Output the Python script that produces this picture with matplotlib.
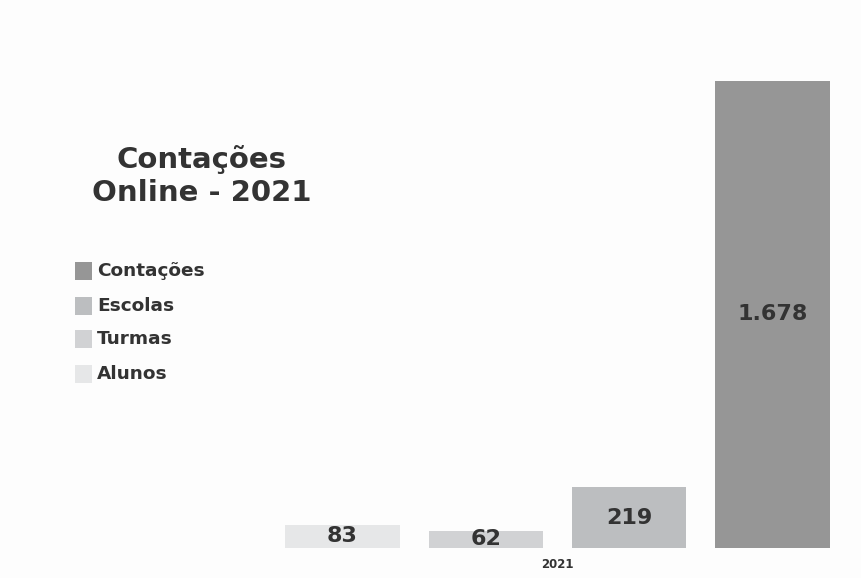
import matplotlib
matplotlib.use("Agg")
import matplotlib.pyplot as plt
from matplotlib.patches import Rectangle

categories = ["Alunos", "Turmas", "Escolas", "Contações"]
values = [83, 62, 219, 1678]
value_labels = ["83", "62", "219", "1.678"]
colors = ["#e6e7e8", "#d1d2d4", "#bcbec0", "#969696"]
group_label = "2021"
title = "Contações\nOnline - 2021"
legend_order = ["Contações", "Escolas", "Turmas", "Alunos"]

W, H = 862, 578
fig = plt.figure(figsize=(W / 100, H / 100), dpi=100)
fig.patch.set_facecolor("#fdfdfd")
plt.rcParams['font.family'] = ['DejaVu Sans']

left_px, right_px = 270, 845
bottom_px, top_px = 548, 81
ax = fig.add_axes([left_px / W, (H - bottom_px) / H, (right_px - left_px) / W, (bottom_px - top_px) / H])
x = list(range(len(values)))
ax.bar(x, values, width=0.8, color=colors, edgecolor="none")
unit = 143.33
ax.set_xlim(-(342.5 - left_px) / unit, 3 + (right_px - 772.5) / unit)
ax.set_ylim(0, max(values))
for xi, v, lab in zip(x, values, value_labels):
    ax.text(xi, v / 2, lab, ha="center", va="center", fontsize=16, fontweight="bold", color="#333333")
ax.set_xticks([1.5])
ax.set_xticklabels([group_label], fontsize=8.5, fontweight="bold", color="#333333")
ax.tick_params(axis="x", length=0, pad=7)
ax.set_yticks([])
for s in ax.spines.values():
    s.set_visible(False)
ax.patch.set_alpha(0)

fig.text(202 / W, 1 - 176 / H, title, ha="center", va="center", fontsize=21, fontweight="bold",
         color="#333333", linespacing=1.25)

leg_y = [271, 306, 339, 374]
for name, yy in zip(legend_order, leg_y):
    c = colors[categories.index(name)]
    fig.patches.append(Rectangle((75 / W, 1 - (yy + 9) / H), 17 / W, 18 / H, transform=fig.transFigure,
                                 facecolor=c, edgecolor="none"))
    fig.text(97 / W, 1 - yy / H, name, ha="left", va="center", fontsize=13.3, fontweight="bold", color="#333333")

fig.savefig("out.png", dpi=100, facecolor=fig.get_facecolor())
